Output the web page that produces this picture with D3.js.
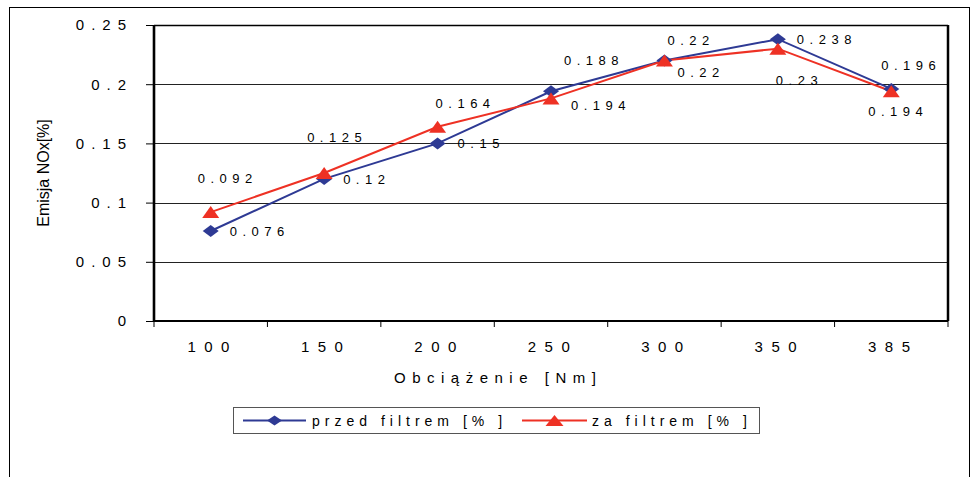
<!DOCTYPE html>
<html>
<head>
<meta charset="utf-8">
<script src="https://cdn.jsdelivr.net/npm/d3@7"></script>
<style>
  body { margin: 0; background: #fff; }
  svg { font-family: "Liberation Sans", Arial, sans-serif; }
</style>
</head>
<body>
<div id="chart"></div>
<script>
// Emisja NOx przed i za filtrem

const categories = ['100', '150', '200', '250', '300', '350', '385'];
const przedFiltrem = [0.076, 0.12, 0.15, 0.194, 0.22, 0.238, 0.196];
const zaFiltrem = [0.092, 0.125, 0.164, 0.188, 0.22, 0.23, 0.194];
const yTicks = [0, 0.05, 0.1, 0.15, 0.2, 0.25];
const yTickLabels = ['0', '0.05', '0.1', '0.15', '0.2', '0.25'];
const valueLabelsPrzed = ['0.076', '0.12', '0.15', '0.194', '0.22', '0.238', '0.196'];
const valueLabelsZa = ['0.092', '0.125', '0.164', '0.188', '0.22', '0.23', '0.194'];

// label offsets (px, from marker) - hand placed like in the original
const offsPrzed = [[19, 0], [19, 0], [20, 0], [20, 14], [13, 12], [19, 0], [-10, -24]];
const offsZa = [[-13, -34], [-17, -36], [-2, -24], [13, -38], [3, -20], [-2, 32], [-23, 20]];

function drawChart() {
    const width = 974, height = 477;
    const pLeft = 154, pRight = 948, pTop = 25, pBottom = 321;

    const blue = '#2e3a94';
    const red = '#ee3124';

    const svg = d3.select('#chart')
        .append('svg')
        .attr('width', width)
        .attr('height', height);

    // outer frame (bottom edge runs off the picture)
    svg.append('rect')
        .attr('x', 9.5).attr('y', 7.5)
        .attr('width', 960).attr('height', 520)
        .attr('fill', 'none')
        .attr('stroke', '#000')
        .attr('stroke-width', 1);

    const x = d3.scaleBand().domain(categories).range([pLeft, pRight]).padding(0);
    const y = d3.scaleLinear().domain([0, 0.25]).range([pBottom, pTop]);

    // grid lines
    svg.append('g')
        .selectAll('line')
        .data(yTicks.filter(d => d > 0 && d < 0.25))
        .join('line')
        .attr('x1', pLeft).attr('x2', pRight)
        .attr('y1', d => Math.round(y(d)) + 0.5)
        .attr('y2', d => Math.round(y(d)) + 0.5)
        .attr('stroke', '#222')
        .attr('stroke-width', 1);

    // plot frame
    svg.append('line')
        .attr('x1', pLeft).attr('x2', pRight)
        .attr('y1', pTop + 0.5).attr('y2', pTop + 0.5)
        .attr('stroke', '#000').attr('stroke-width', 1.3);
    svg.append('line')
        .attr('x1', pRight).attr('x2', pRight)
        .attr('y1', pTop).attr('y2', pBottom)
        .attr('stroke', '#000').attr('stroke-width', 2.5);

    // y axis
    const yAxis = svg.append('g')
        .attr('transform', `translate(${pLeft},0)`)
        .call(d3.axisLeft(y).tickValues(yTicks).tickSize(8).tickFormat(''));
    yAxis.select('.domain').attr('stroke-width', 2.6).attr('d', `M0,${pBottom}V${pTop}`);
    yAxis.selectAll('.tick line').attr('stroke', '#000');

    svg.append('g')
        .selectAll('text')
        .data(yTicks)
        .join('text')
        .attr('x', 127 + 6)
        .attr('y', d => y(d))
        .attr('dy', '0.36em')
        .attr('text-anchor', 'end')
        .attr('font-size', 15)
        .attr('letter-spacing', 7)
        .attr('fill', '#000')
        .text((d, i) => yTickLabels[i]);

    // x axis
    const xAxis = svg.append('g')
        .attr('transform', `translate(0,${pBottom})`)
        .call(d3.axisBottom(x).tickSize(0).tickFormat(''));
    xAxis.select('.domain').attr('stroke-width', 2).attr('d', `M${pLeft},0H${pRight}`);
    xAxis.selectAll('.tick').remove();

    const bounds = [pLeft].concat(categories.map(c => x(c) + x.bandwidth()));
    svg.append('g')
        .selectAll('line')
        .data(bounds)
        .join('line')
        .attr('x1', d => d).attr('x2', d => d)
        .attr('y1', pBottom).attr('y2', pBottom + 6)
        .attr('stroke', '#000');

    svg.append('g')
        .selectAll('text')
        .data(categories)
        .join('text')
        .attr('x', d => x(d) + x.bandwidth() / 2 + 2)
        .attr('y', 347)
        .attr('dy', '0.36em')
        .attr('text-anchor', 'middle')
        .attr('font-size', 15)
        .attr('letter-spacing', 8.5)
        .attr('fill', '#000')
        .text(d => d);

    // axis titles
    svg.append('text')
        .attr('x', 394)
        .attr('y', 378)
        .attr('dy', '0.36em')
        .attr('font-size', 15)
        .attr('letter-spacing', 6.5)
        .text('Obciążenie [Nm]');

    svg.append('text')
        .attr('transform', `translate(49,${(pTop + pBottom) / 2}) rotate(-90)`)
        .attr('text-anchor', 'middle')
        .attr('font-size', 16)
        .text('Emisja NOx[%]');

    // series
    const cx = i => x(categories[i]) + x.bandwidth() / 2;

    const line = d3.line()
        .x((d, i) => cx(i))
        .y(d => y(d));

    function diamond(w, h) {
        return `M0,${-h / 2}L${w / 2},0L0,${h / 2}L${-w / 2},0Z`;
    }
    function triangle(w, h) {
        return `M0,${-h / 2}L${w / 2},${h / 2}L${-w / 2},${h / 2}Z`;
    }

    svg.append('path')
        .datum(przedFiltrem)
        .attr('d', line)
        .attr('fill', 'none')
        .attr('stroke', blue)
        .attr('stroke-width', 2);

    svg.append('path')
        .datum(zaFiltrem)
        .attr('d', line)
        .attr('fill', 'none')
        .attr('stroke', red)
        .attr('stroke-width', 2);

    svg.append('g')
        .selectAll('path')
        .data(przedFiltrem)
        .join('path')
        .attr('d', diamond(16, 12))
        .attr('transform', (d, i) => `translate(${cx(i)},${y(d)})`)
        .attr('fill', blue);

    svg.append('g')
        .selectAll('path')
        .data(zaFiltrem)
        .join('path')
        .attr('d', triangle(17, 12))
        .attr('transform', (d, i) => `translate(${cx(i)},${y(d)})`)
        .attr('fill', red);

    // value labels
    function valueLabels(values, labels, offs) {
        svg.append('g')
            .selectAll('text')
            .data(values)
            .join('text')
            .attr('x', (d, i) => cx(i) + offs[i][0])
            .attr('y', (d, i) => y(d) + offs[i][1])
            .attr('dy', '0.36em')
            .attr('font-size', 13)
            .attr('letter-spacing', 5.5)
            .attr('fill', '#000')
            .text((d, i) => labels[i]);
    }
    valueLabels(przedFiltrem, valueLabelsPrzed, offsPrzed);
    valueLabels(zaFiltrem, valueLabelsZa, offsZa);

    // legend
    const legend = svg.append('g');
    legend.append('rect')
        .attr('x', 233.5).attr('y', 407.5)
        .attr('width', 526).attr('height', 26)
        .attr('fill', '#fff')
        .attr('stroke', '#555');

    const legendItems = [
        { name: 'przed filtrem [% ]', color: blue, x0: 243, x1: 306, text: 312, mark: diamond(15, 10) },
        { name: 'za filtrem [% ]', color: red, x0: 522, x1: 587, text: 592, mark: triangle(18, 11) }
    ];
    const ly = 420.5;
    legendItems.forEach(it => {
        legend.append('line')
            .attr('x1', it.x0).attr('x2', it.x1)
            .attr('y1', ly).attr('y2', ly)
            .attr('stroke', it.color).attr('stroke-width', 2);
        legend.append('path')
            .attr('d', it.mark)
            .attr('transform', `translate(${(it.x0 + it.x1) / 2},${ly})`)
            .attr('fill', it.color);
        legend.append('text')
            .attr('x', it.text)
            .attr('y', ly)
            .attr('dy', '0.36em')
            .attr('font-size', 14)
            .attr('letter-spacing', 5)
            .text(it.name);
    });
}

drawChart();
</script>
</body>
</html>
